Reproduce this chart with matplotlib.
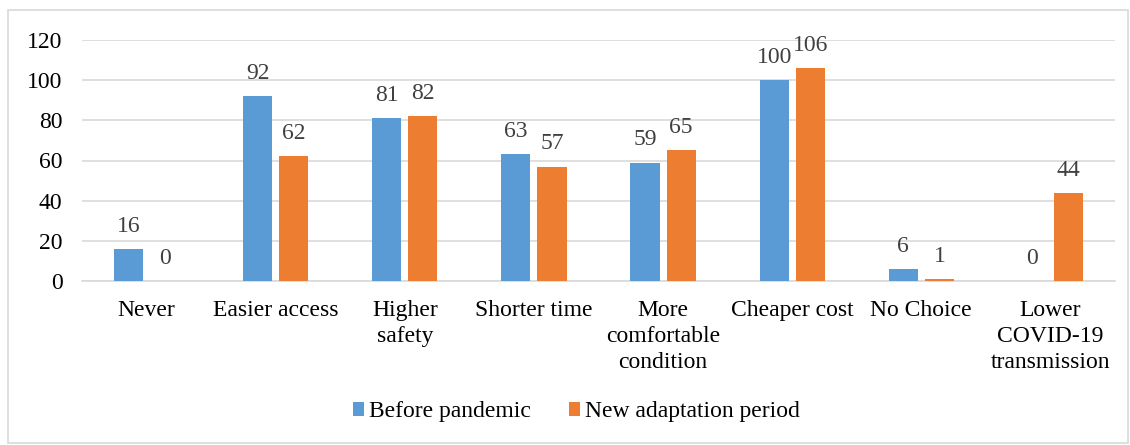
import numpy as np
import matplotlib.pyplot as plt
from matplotlib.patches import Rectangle

# -------------------------------
# Datos
# -------------------------------
categorias = ["Never", "Easier access", "Higher\nsafety", "Shorter time",
              "More\ncomfortable\ncondition", "Cheaper cost", "No Choice",
              "Lower\nCOVID-19\ntransmission"]
antes = [16, 92, 81, 63, 59, 100, 6, 0]
nueva = [0, 62, 82, 57, 65, 106, 1, 44]
series = ["Before pandemic", "New adaptation period"]

azul = "#5B9BD5"
naranja = "#ED7D31"
fs = 17

plt.rcParams["font.family"] = ["Liberation Serif", "DejaVu Serif"]

fig = plt.figure(figsize=(11.3, 4.45), dpi=100)
ax = fig.add_axes([82 / 1130, 1 - 281 / 445, 1033 / 1130, 241 / 445])

x = np.arange(len(categorias))
ancho = 0.225
sep = 0.14

b1 = ax.bar(x - sep, antes, ancho, color=azul, label=series[0], zorder=3)
b2 = ax.bar(x + sep, nueva, ancho, color=naranja, label=series[1], zorder=3)

for barras in (b1, b2):
    for r in barras:
        h = r.get_height()
        ax.text(r.get_x() + r.get_width() / 2, h + 6, f"{h:.0f}",
                ha="center", va="bottom", fontsize=fs, color="#404040")

ax.set_xlim(-0.5, len(categorias) - 0.5)
ax.set_ylim(0, 120)
ax.set_yticks(range(0, 121, 20))
ax.yaxis.grid(True, color="#D9D9D9", linewidth=1.2, zorder=0)
ax.set_xticks(x)
ax.set_xticklabels(categorias, fontsize=fs, linespacing=1.3)
ax.tick_params(axis="both", length=0, labelsize=fs, colors="black")
ax.tick_params(axis="x", pad=14)
ax.tick_params(axis="y", pad=14)
for s in ["top", "right", "left"]:
    ax.spines[s].set_visible(False)
ax.spines["bottom"].set_color("#D9D9D9")
ax.spines["bottom"].set_linewidth(1.2)

fig.legend(handles=[b1, b2], loc="center", bbox_to_anchor=(0.51, 1 - 412 / 445),
           ncol=2, frameon=False, fontsize=fs, handlelength=0.5, handleheight=0.5,
           handletextpad=0.2, columnspacing=1.6)

# marco exterior
fig.patches.append(Rectangle((8 / 1130, 2 / 445), 1120 / 1130, 433 / 445,
                             transform=fig.transFigure, fill=False,
                             edgecolor="#D9D9D9", linewidth=1.2))

fig.savefig("out.png", dpi=100)
